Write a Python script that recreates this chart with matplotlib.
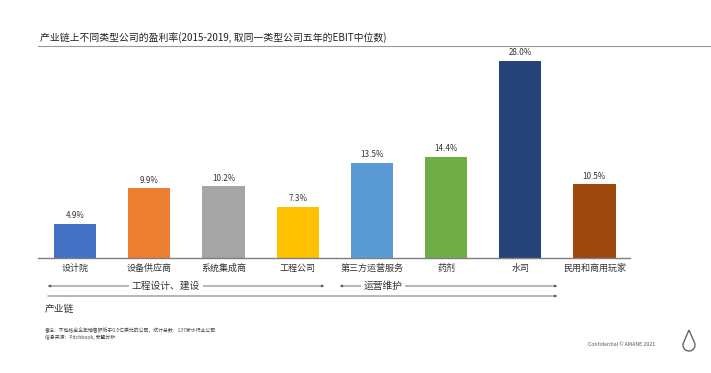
import matplotlib.pyplot as plt
import numpy as np
from matplotlib.patches import FancyArrowPatch, PathPatch
from matplotlib.path import Path

plt.rcParams['font.family'] = ['Noto Sans CJK SC', 'DejaVu Sans']

categories = ["设计院", "设备供应商", "系统集成商", "工程公司", "第三方运营服务", "药剂", "水司", "民用和商用玩家"]
values = [4.9, 9.9, 10.2, 7.3, 13.5, 14.4, 28.0, 10.5]
colors = ["#4472C4", "#ED7D31", "#A5A5A5", "#FFC000", "#5B9BD5", "#70AD47", "#264478", "#9E480E"]

W, H = 711, 373
fig = plt.figure(figsize=(W / 100, H / 100), dpi=100)

def fx(px):
    return px / W

def fy(py):
    return 1 - py / H

# bar area
ax = fig.add_axes([fx(38), fy(258), fx(630) - fx(38), fy(46.8) - fy(258)])
x = list(range(len(categories)))
ax.bar(x, values, width=0.57, color=colors)
for xi, v in zip(x, values):
    ax.text(xi, v + 0.5, f"{v:.1f}%", ha='center', va='bottom', fontsize=5.8, color='#333333')
ax.set_xlim(-0.5, 7.48)
ax.set_ylim(0, 30)
ax.set_xticks(x)
ax.set_xticklabels(categories, fontsize=6.5, color='#333333')
ax.tick_params(axis='x', length=0, pad=4)
ax.set_yticks([])
for s in ['top', 'right', 'left']:
    ax.spines[s].set_visible(False)
ax.spines['bottom'].set_color('#7F7F7F')
ax.spines['bottom'].set_linewidth(1.0)

# title and underline
fig.text(fx(40), fy(38), "产业链上不同类型公司的盈利率(2015-2019, 取同一类型公司五年的EBIT中位数)",
         fontsize=7.1, color='#222222', va='center')
fig.add_artist(plt.Line2D([fx(38), 1], [fy(46), fy(46)], color='#9A9A9A', lw=0.8))

# value chain arrows
def arrow(x0, x1, y, both=True):
    style = '<|-|>' if both else '-|>'
    a = FancyArrowPatch((fx(x0), fy(y)), (fx(x1), fy(y)), transform=fig.transFigure,
                        arrowstyle=style, mutation_scale=3.5, color='#555555', lw=0.6)
    fig.add_artist(a)

arrow(45, 327, 286)
fig.text(fx(166), fy(286), "工程设计、建设", fontsize=7, ha='center', va='center',
         color='#333333', bbox=dict(facecolor='white', edgecolor='none', pad=2))
arrow(337, 560, 286)
fig.text(fx(383), fy(286), "运营维护", fontsize=7, ha='center', va='center',
         color='#333333', bbox=dict(facecolor='white', edgecolor='none', pad=2))
arrow(45, 560, 296, both=False)
fig.text(fx(45), fy(309), "产业链", fontsize=7, va='center', color='#333333')

# footnotes
fig.text(fx(45), fy(330), "备注：不包括全企年销售额低于0.5亿美元的公司，统计总数：137家水行业公司",
         fontsize=3.5, va='center', color='#444444')
fig.text(fx(45), fy(337), "信息来源：Pitchbook, 安盟分析", fontsize=3.5, va='center', color='#444444')
fig.text(fx(655), fy(345), "Confidential © AMANE 2021", fontsize=3.8, ha='right', va='center', color='#555555')

# drop logo
cx, cy, r = 689, 345, 6
ang = np.linspace(np.radians(150), np.radians(-150 + 360 - 360) + 0, 2)
arc = np.linspace(np.radians(150), np.radians(390), 50)
pts = [(fx(cx), fy(cy - 15))]
pts += [(fx(cx + r * np.cos(a)), fy(cy - r * np.sin(-a + np.pi))) for a in arc]
pts.append((fx(cx), fy(cy - 15)))
drop = PathPatch(Path(pts), transform=fig.transFigure, facecolor='none', edgecolor='#666666', lw=1.0)
fig.add_artist(drop)

fig.savefig("out.png", dpi=100, facecolor='white')
